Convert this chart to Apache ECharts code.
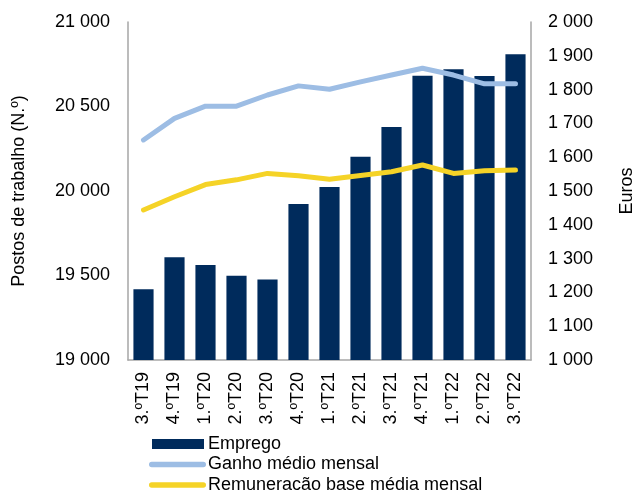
<!DOCTYPE html>
<html>
<head>
<meta charset="utf-8">
<script src="https://cdn.jsdelivr.net/npm/echarts@6/dist/echarts.min.js"></script>
<style>
  html, body { margin: 0; padding: 0; background: #fff; }
  #chart { width: 635px; height: 491px; }
</style>
</head>
<body>
<div id="chart"></div>
<script>
// Quarterly categories
const quarters = ['3.ºT19', '4.ºT19', '1.ºT20', '2.ºT20', '3.ºT20', '4.ºT20',
                  '1.ºT21', '2.ºT21', '3.ºT21', '4.ºT21', '1.ºT22', '2.ºT22', '3.ºT22'];

// Jobs (left axis)
const emprego = [19418, 19608, 19562, 19499, 19477, 19923, 20024, 20203, 20379, 20682, 20720, 20680, 20809];

// Monthly earnings in euros (right axis)
const ganhoMedio = [1651, 1715, 1751, 1751, 1784, 1811, 1801, 1823, 1843, 1863, 1843, 1817, 1817];
const remuneracaoBase = [1444, 1483, 1519, 1533, 1552, 1545, 1535, 1546, 1557, 1577, 1552, 1560, 1562];

// Axis ranges
const leftAxis = { min: 19000, max: 21000, step: 500 };
const rightAxis = { min: 1000, max: 2000, step: 100 };

const FONT = 'Liberation Sans, Arial, sans-serif';
const FS = 18;
const TEXT = '#000';
const AXIS_LINE = '#a6a6a6';

// Legend icons share a 57x10 box; the zero-area moves pin the bounding box
const BOX = 'M0,0L0,0Z M57,10L57,10Z ';
const ICON_BAR = 'path://' + BOX + 'M3,0H55V10H3Z';
const ICON_LINE = 'path://' + BOX +
  'M2.75,2.25H54.25A2.75,2.75 0 0 1 54.25,7.75H2.75A2.75,2.75 0 0 1 2.75,2.25Z';

function spaced(v) {
  return String(Math.round(v)).replace(/\B(?=(\d{3})+(?!\d))/g, ' ');
}

const chart = echarts.init(document.getElementById('chart'), null, { renderer: 'canvas' });

chart.setOption({
  animation: false,
  backgroundColor: '#fff',
  textStyle: { fontFamily: FONT, color: TEXT },
  grid: { left: 128, right: 104, top: 22, bottom: 131, containLabel: false, outerBoundsMode: 'none' },
  legend: {
    orient: 'vertical',
    left: 149,
    top: 435,
    height: 70,
    itemWidth: 57,
    itemHeight: 10,
    itemGap: 2.5,
    padding: 0,
    itemStyle: { borderWidth: 0 },
    textStyle: { fontFamily: FONT, fontSize: FS, lineHeight: 18, color: TEXT, padding: [0, 0, 0, -3] },
    data: [
      { name: 'Emprego', icon: ICON_BAR },
      { name: 'Ganho médio mensal', icon: ICON_LINE },
      { name: 'Remuneracão base média mensal', icon: ICON_LINE }
    ]
  },
  xAxis: {
    type: 'category',
    data: quarters,
    axisLine: { lineStyle: { color: AXIS_LINE, width: 1.5 } },
    axisTick: { show: false },
    axisLabel: { rotate: 90, margin: 12, fontSize: FS, color: TEXT, fontFamily: FONT, interval: 0 }
  },
  yAxis: [
    {
      type: 'value',
      position: 'left',
      min: leftAxis.min, max: leftAxis.max, interval: leftAxis.step,
      name: 'Postos de trabalho (N.º)',
      nameLocation: 'middle',
      nameRotate: 90,
      nameGap: 100,
      nameTextStyle: { fontSize: FS, color: TEXT, fontFamily: FONT },
      axisLine: { show: true, lineStyle: { color: AXIS_LINE, width: 1.5 } },
      axisTick: { show: false },
      splitLine: { show: false },
      axisLabel: { margin: 18, fontSize: FS, color: TEXT, fontFamily: FONT, formatter: spaced }
    },
    {
      type: 'value',
      position: 'right',
      min: rightAxis.min, max: rightAxis.max, interval: rightAxis.step,
      name: 'Euros',
      nameLocation: 'middle',
      nameRotate: 90,
      nameGap: 87,
      nameTextStyle: { fontSize: FS, color: TEXT, fontFamily: FONT },
      axisLine: { show: true, lineStyle: { color: AXIS_LINE, width: 1.5 } },
      axisTick: { show: false },
      splitLine: { show: false },
      axisLabel: { margin: 17, fontSize: FS, color: TEXT, fontFamily: FONT, formatter: spaced }
    }
  ],
  series: [
    {
      name: 'Emprego',
      type: 'bar',
      yAxisIndex: 0,
      data: emprego,
      barWidth: '65%',
      itemStyle: { color: '#002b5c' }
    },
    {
      name: 'Ganho médio mensal',
      type: 'line',
      yAxisIndex: 1,
      data: ganhoMedio,
      symbol: 'none',
      lineStyle: { color: '#9dbde4', width: 5, cap: 'round', join: 'round' },
      itemStyle: { color: '#9dbde4' }
    },
    {
      name: 'Remuneracão base média mensal',
      type: 'line',
      yAxisIndex: 1,
      data: remuneracaoBase,
      symbol: 'none',
      lineStyle: { color: '#f5d327', width: 5, cap: 'round', join: 'round' },
      itemStyle: { color: '#f5d327' }
    }
  ]
});
</script>
</body>
</html>
